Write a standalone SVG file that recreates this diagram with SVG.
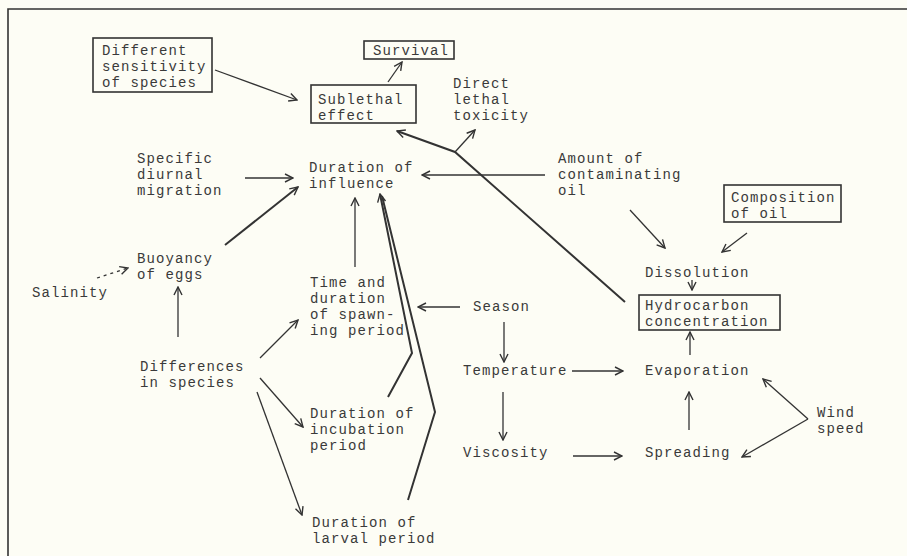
<svg xmlns="http://www.w3.org/2000/svg" width="907" height="556" viewBox="0 0 907 556">
<defs>
<style>
text{font-family:"Liberation Mono","Courier New",monospace;font-size:14px;letter-spacing:1.1px;fill:#3a3a3a}
.box{fill:none;stroke:#333;stroke-width:1.6}
.c{fill:none;stroke:#333;stroke-width:1.3;marker-end:url(#a)}
.t{fill:none;stroke:#333;stroke-width:2;stroke-linejoin:miter}
.ta{marker-end:url(#a)}
.frame{fill:none;stroke:#333;stroke-width:1.6}
</style>
<marker id="a" viewBox="0 0 10 10" refX="9" refY="5" markerWidth="10" markerHeight="10" markerUnits="userSpaceOnUse" orient="auto">
<path d="M1,1 L9,5 L1,9" fill="none" stroke="#333" stroke-width="1.4"/>
</marker>
</defs>
<rect x="0" y="0" width="907" height="556" fill="#fdfdf5"/>
<path class="frame" d="M8,556 L8,9 L907,9"/>

<g id="different-sensitivity">
<rect class="box" x="93" y="38" width="119" height="54"/>
<text x="102" y="55">Different</text>
<text x="102" y="71">sensitivity</text>
<text x="102" y="87">of species</text>
</g>
<g id="survival">
<rect class="box" x="364" y="41" width="90" height="18"/>
<text x="373" y="55">Survival</text>
</g>
<g id="sublethal">
<rect class="box" x="311" y="85" width="105" height="38"/>
<text x="318" y="104">Sublethal</text>
<text x="318" y="120">effect</text>
</g>
<g id="direct-lethal">
<text x="453" y="88">Direct</text>
<text x="453" y="104">lethal</text>
<text x="453" y="120">toxicity</text>
</g>
<g id="specific-migration">
<text x="137" y="163">Specific</text>
<text x="137" y="179">diurnal</text>
<text x="137" y="195">migration</text>
</g>
<g id="duration-influence">
<text x="309" y="172">Duration of</text>
<text x="309" y="188">influence</text>
</g>
<g id="amount-oil">
<text x="558" y="163">Amount of</text>
<text x="558" y="179">contaminating</text>
<text x="558" y="195">oil</text>
</g>
<g id="composition">
<rect class="box" x="724" y="185" width="117" height="37"/>
<text x="731" y="202">Composition</text>
<text x="731" y="218">of oil</text>
</g>
<g id="buoyancy">
<text x="137" y="263">Buoyancy</text>
<text x="137" y="279">of eggs</text>
</g>
<g id="salinity">
<text x="32" y="297">Salinity</text>
</g>
<g id="time-spawning">
<text x="310" y="287">Time and</text>
<text x="310" y="303">duration</text>
<text x="310" y="319">of spawn-</text>
<text x="310" y="335">ing period</text>
</g>
<g id="dissolution">
<text x="645" y="277">Dissolution</text>
</g>
<g id="hydrocarbon">
<rect class="box" x="639" y="295" width="141" height="35"/>
<text x="645" y="310">Hydrocarbon</text>
<text x="645" y="326">concentration</text>
</g>
<g id="season">
<text x="473" y="311">Season</text>
</g>
<g id="differences">
<text x="140" y="371">Differences</text>
<text x="140" y="387">in species</text>
</g>
<g id="temperature">
<text x="463" y="375">Temperature</text>
</g>
<g id="evaporation">
<text x="645" y="375">Evaporation</text>
</g>
<g id="wind">
<text x="817" y="417">Wind</text>
<text x="817" y="433">speed</text>
</g>
<g id="incubation">
<text x="310" y="418">Duration of</text>
<text x="310" y="434">incubation</text>
<text x="310" y="450">period</text>
</g>
<g id="viscosity">
<text x="463" y="457">Viscosity</text>
</g>
<g id="spreading">
<text x="645" y="457">Spreading</text>
</g>
<g id="larval">
<text x="312" y="527">Duration of</text>
<text x="312" y="543">larval period</text>
</g>

<g id="connectors">
<path class="c" d="M215,70 L297,100"/>
<path class="c" d="M388,82 L402,62"/>
<path class="t ta" d="M625,302 L455,152 L397,131"/>
<path class="c" d="M455,152 L475,130"/>
<path class="c" d="M245,178 L293,178"/>
<path class="t ta" d="M225,245 L298,187"/>
<path class="c" d="M545,175 L422,175"/>
<path class="c" d="M355,267 L355,198"/>
<path class="t ta" d="M388,397 L412,353 L380,194"/>
<path class="t" d="M408,500 L435,412 L382,196"/>
<path class="c" d="M97,278 L128,268" stroke-dasharray="3,4"/>
<path class="c" d="M178,337 L178,287"/>
<path class="c" d="M260,358 L298,320"/>
<path class="c" d="M260,378 L303,427"/>
<path class="c" d="M257,392 L302,515"/>
<path class="c" d="M460,307 L418,307"/>
<path class="c" d="M504,322 L504,362"/>
<path class="c" d="M572,371 L623,371"/>
<path class="c" d="M503,392 L503,440"/>
<path class="c" d="M573,456 L622,456"/>
<path class="c" d="M689,430 L689,392"/>
<path class="c" d="M690,355 L690,332"/>
<path class="c" d="M692,280 L692,290"/>
<path class="c" d="M630,210 L665,248"/>
<path class="c" d="M747,233 L722,252"/>
<path class="c" d="M808,419 L763,379"/>
<path class="c" d="M808,419 L742,457"/>
</g>
</svg>
